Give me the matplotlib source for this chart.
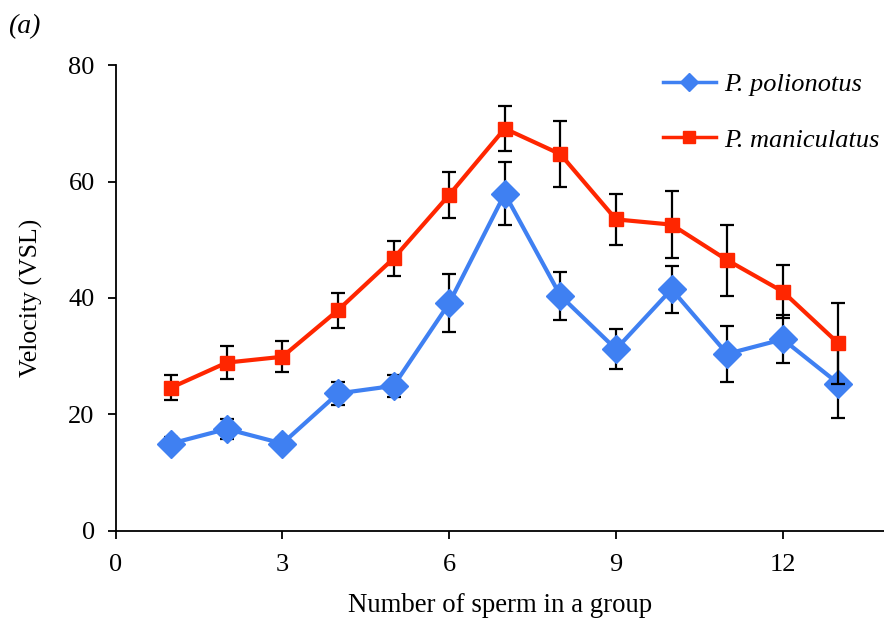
import matplotlib
matplotlib.use("Agg")
import matplotlib.pyplot as plt
from matplotlib.lines import Line2D

group_size = [1, 2, 3, 4, 5, 6, 7, 8, 9, 10, 11, 12, 13]
polionotus = [15.0, 17.5, 15.0, 23.6, 24.9, 39.1, 57.9, 40.4, 31.2, 41.5, 30.4, 32.9, 25.3]
polionotus_err = [1.1, 1.7, 1.0, 2.0, 1.9, 5.0, 5.4, 4.1, 3.4, 4.0, 4.8, 4.1, 5.9]
maniculatus = [24.6, 28.9, 29.9, 37.9, 46.8, 57.7, 69.1, 64.7, 53.5, 52.6, 46.5, 41.1, 32.2]
maniculatus_err = [2.2, 2.8, 2.7, 3.0, 3.0, 3.9, 3.9, 5.7, 4.4, 5.8, 6.1, 4.5, 7.0]
x_ticks = [0, 3, 6, 9, 12]
y_ticks = [0, 20, 40, 60, 80]
series_labels = ['P. polionotus', 'P. maniculatus']

plt.rcParams['font.family'] = ['Liberation Serif', 'DejaVu Serif']

fig = plt.figure(figsize=(8.84, 6.26), dpi=100)
ax = fig.add_axes([0.1307, 0.152, 0.8693, 0.744])

blue = '#3F80F2'
red = '#FF2600'

ax.errorbar(group_size, polionotus, yerr=polionotus_err, color=blue, lw=3,
            marker='D', ms=14, mec=blue, mfc=blue, ecolor='black', elinewidth=1.6,
            capsize=5, capthick=1.6, zorder=3)
ax.errorbar(group_size, maniculatus, yerr=maniculatus_err, color=red, lw=3,
            marker='s', ms=10, mec=red, mfc=red, ecolor='black', elinewidth=1.6,
            capsize=5, capthick=1.6, zorder=4)

ax.set_xlim(0, 13.82)
ax.set_ylim(0, 80)
ax.set_xticks(x_ticks)
ax.set_yticks(y_ticks)
ax.spines['top'].set_visible(False)
ax.spines['right'].set_visible(False)
ax.spines['left'].set_linewidth(1.3)
ax.spines['bottom'].set_linewidth(1.3)
ax.tick_params(axis='both', direction='out', length=6, width=1.3, labelsize=19)
ax.tick_params(axis='y', pad=9)
ax.tick_params(axis='x', pad=11)

ax.set_xlabel('Number of sperm in a group', fontsize=19.3, labelpad=12)
ax.set_ylabel('Velocity (VSL)', fontsize=18.5, labelpad=18)

handles = [
    Line2D([0], [0], color=blue, lw=2.5, marker='D', ms=9, mec=blue, mfc=blue),
    Line2D([0], [0], color=red, lw=2.5, marker='s', ms=9, mec=red, mfc=red),
]
leg = fig.legend(handles, series_labels, loc='upper left',
                 bbox_to_anchor=(663 / 884, 1 - 73 / 626),
                 frameon=False, prop={'style': 'italic', 'size': 19},
                 handlelength=2.0, labelspacing=1.2, handletextpad=0.3,
                 borderpad=0, borderaxespad=0)

fig.text(0.009, 0.957, '(a)', fontsize=20, style='italic', ha='left', va='center')

fig.savefig('out.png', dpi=100)
